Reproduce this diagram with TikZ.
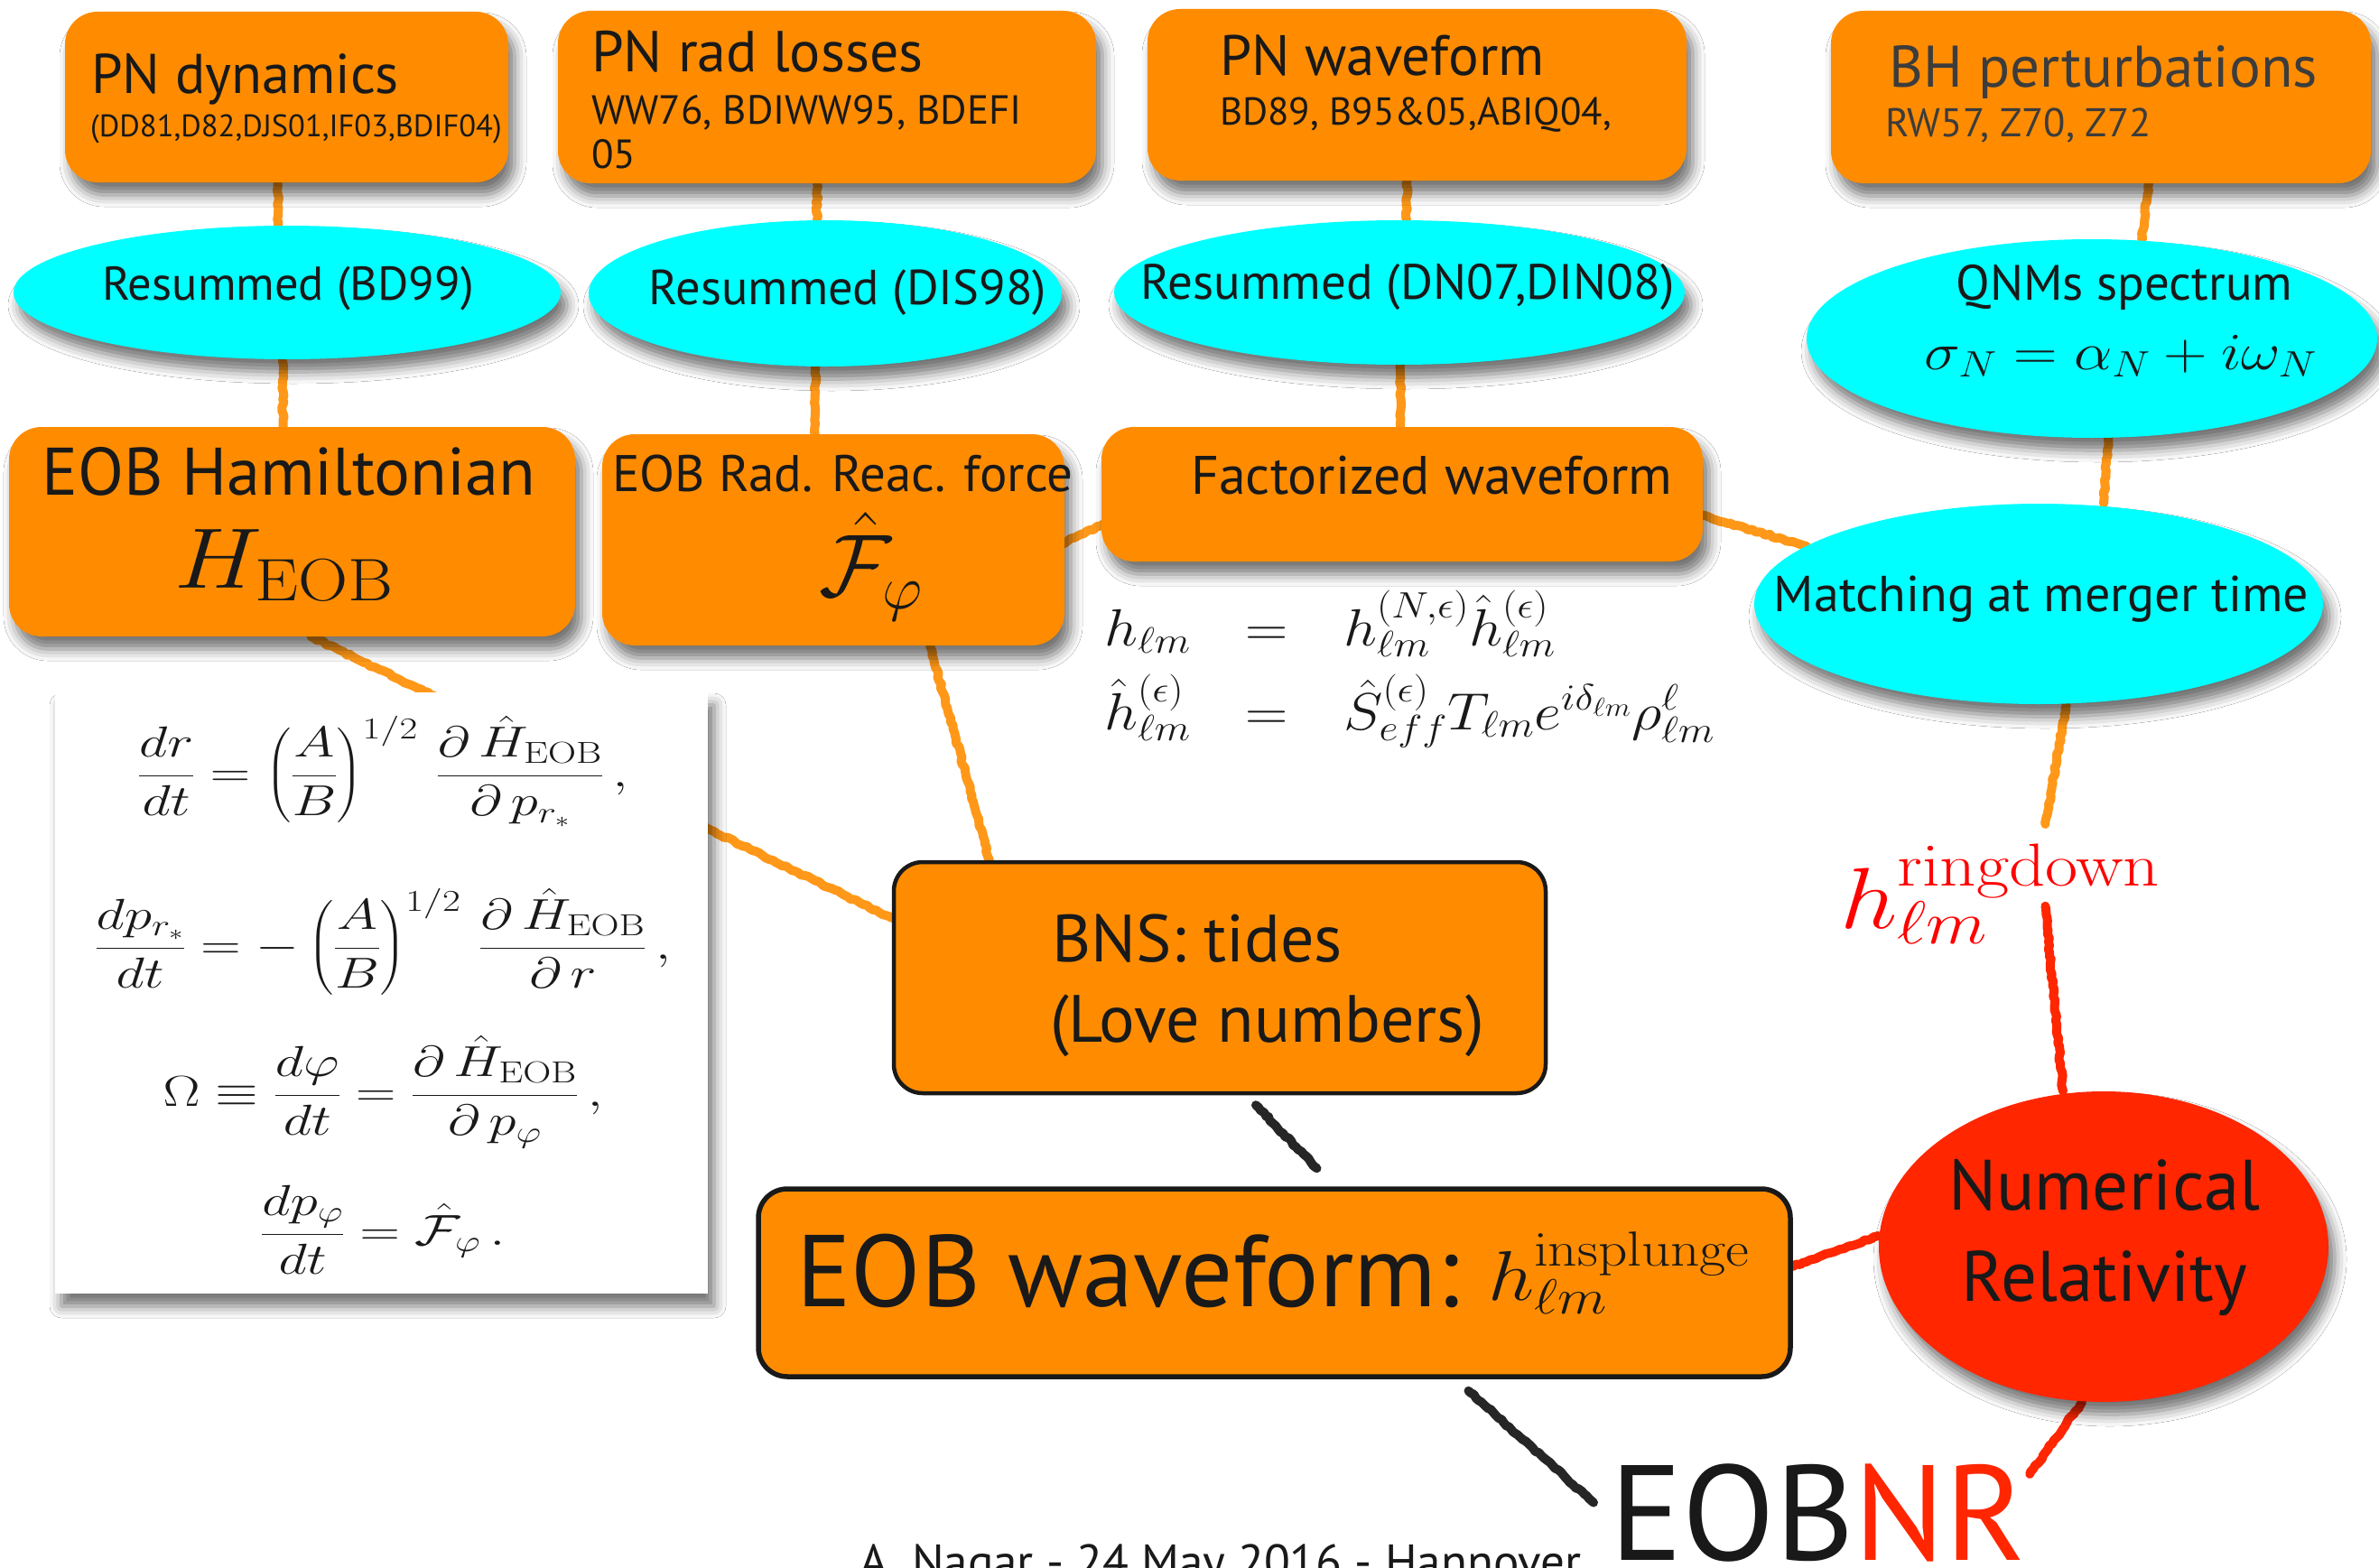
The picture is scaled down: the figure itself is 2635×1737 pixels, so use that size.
\IfFileExists{fix-cm.sty}{\RequirePackage{fix-cm}}{}
\documentclass[tikz,border=0pt]{standalone}
\usepackage{amsmath}
\usepackage{graphicx}
\usepackage[no-math]{fontspec}
\newfontfamily\chalk{PT Sans}
\usetikzlibrary{shapes.geometric,shadows.blur,decorations.pathmorphing}
\pgfdeclarelayer{bg}
\pgfsetlayers{bg,main}
\definecolor{boxorange}{RGB}{255,140,0}
\definecolor{linkorange}{RGB}{255,152,24}
\definecolor{bubcyan}{RGB}{0,255,255}
\definecolor{nrred}{RGB}{255,38,0}
\definecolor{rdred}{RGB}{255,0,0}
\definecolor{ink}{RGB}{25,25,25}
\definecolor{inkgray}{RGB}{60,60,60}
\newcommand{\fsz}[1]{\fontsize{#1pt}{#1pt}\selectfont}
\newcommand{\xs}[2]{\scalebox{#1}[1]{#2}}
\begin{document}
\begin{tikzpicture}[x=1pt,y=-1pt,
  shd/.style={blur shadow={shadow xshift=7pt, shadow yshift=-14pt, shadow blur radius=13pt, shadow opacity=55}},
  obox/.style={rectangle, rounded corners=36pt, fill=boxorange, inner sep=0pt, shd},
  cbub/.style={ellipse, fill=bubcyan, inner sep=0pt, shd},
  rough/.style={rectangle, rounded corners=32pt, fill=boxorange, draw=black!90, line width=4.5pt, inner sep=0pt},
  lbl/.style={inner sep=0pt, text=ink},
  con/.style={draw=linkorange, line width=10pt, line cap=round, line join=round, decorate,
     decoration={random steps, segment length=4pt, amplitude=1.2pt}},
  rcon/.style={con, draw=nrred},
  kcon/.style={con, draw=black!85, line width=10pt}]
\pgfmathsetseed{7}
\fill[white] (0,0) rectangle (2,2);
\useasboundingbox (0,0) rectangle (2635,1737);

% ---------- top row ----------
\node[obox, minimum width=491pt, minimum height=189pt] (pnd) at (317.5,107.5) {};
\node[lbl, anchor=base west, font=\chalk\fsz{62}] (pndt) at (101,103) {PN dynamics};
\node[lbl, anchor=base west, font=\chalk\fsz{34.5}] (pndr) at (100,151) {(DD81,D82,DJS01,IF03,BDIF04)};

\node[obox, minimum width=596pt, minimum height=191pt] (pnr) at (916,107.5) {};
\node[lbl, anchor=base west, font=\chalk\fsz{64}] (pnrt) at (655,79) {PN rad losses};
\node[lbl, anchor=base west, font=\chalk\fsz{45}] (pnrr) at (655,137) {WW76, BDIWW95, BDEFI};
\node[lbl, anchor=base west, font=\chalk\fsz{45}] (pnrr2) at (655,186) {05};

\node[obox, minimum width=597pt, minimum height=190pt] (pnw) at (1569.5,105) {};
\node[lbl, anchor=base west, font=\chalk\fsz{63}] (pnwt) at (1351,84) {PN waveform};
\node[lbl, anchor=base west, font=\chalk\fsz{43}] (pnwr) at (1351,138) {BD89, B95\&05,ABIQ04,};

\node[obox, minimum width=598pt, minimum height=191pt] (bhp) at (2327,107.5) {};
\node[lbl, anchor=base west, font=\chalk\fsz{65}, text=inkgray] (bhpt) at (2092,96) {BH perturbations};
\node[lbl, anchor=base west, font=\chalk\fsz{44.5}, text=inkgray] (bhpr) at (2088,151) {RW57, Z70, Z72};

% ---------- second row ----------
\node[cbub, minimum width=606pt, minimum height=148pt] (bd) at (318,324) {};
\node[lbl, anchor=base, font=\chalk\fsz{52.5}] (bdt) at (319,332.5) {Resummed (BD99)};

\node[cbub, minimum width=524pt, minimum height=162pt] (dis) at (914,325) {};
\node[lbl, anchor=base, font=\chalk\fsz{54.5}] (dist) at (939,337) {Resummed (DIS98)};

\node[cbub, minimum width=632pt, minimum height=160pt] (dn) at (1550,324) {};
\node[lbl, anchor=base, font=\chalk\fsz{55}] (dnt) at (1559,331) {Resummed (DN07,DIN08)};

\node[cbub, minimum width=632pt, minimum height=220pt] (qnm) at (2317,375) {};
\node[lbl, anchor=base, font=\chalk\fsz{55}] (qnmt) at (2353,332) {QNMs spectrum};
\node[lbl, anchor=base, font=\fsz{58}] (qnmm) at (2349,409) {\xs{1.16}{$\sigma_N=\alpha_N+i\omega_N$}};

% ---------- third row ----------
\node[obox, minimum width=627pt, minimum height=232pt] (eobh) at (323.5,589) {};
\node[lbl, anchor=base, font=\chalk\fsz{74.5}] (eobht) at (320,548) {EOB Hamiltonian};
\node[lbl, anchor=base, font=\fsz{95}] (eobhm) at (315,651) {\xs{1.15}{$H_{\mathrm{EOB}}$}};

\node[obox, minimum width=512pt, minimum height=234pt] (rad) at (923,598) {};
\node[lbl, anchor=base west, font=\chalk\fsz{57}] (radt) at (678,544) {EOB Rad. Reac. force};
\node[lbl, anchor=base, font=\fsz{98}] (radm) at (965,660) {$\hat{\mathcal{F}}_{\varphi}$};

\node[obox, minimum width=666pt, minimum height=149pt] (fact) at (1553,547.5) {};
\node[lbl, anchor=base west, font=\chalk\fsz{60}] (factt) at (1319,547) {Factorized waveform};

\node[cbub, minimum width=630pt, minimum height=222pt] (match) at (2258,669) {};
\node[lbl, anchor=base, font=\chalk\fsz{56}] (matcht) at (2261,677) {Matching at merger time};

% ---------- factorized waveform formulas ----------
\node[lbl, anchor=base east, font=\fsz{58}] (f1l) at (1319,715) {\xs{1.13}{$h_{\ell m}$}};
\node[lbl, anchor=base, font=\fsz{58}] (f1e) at (1403,715) {\xs{1.13}{$=$}};
\node[lbl, anchor=base west, font=\fsz{58}] (f1r) at (1488,715) {\xs{1.13}{$h^{(N,\epsilon)}_{\ell m}\hat{h}^{(\epsilon)}_{\ell m}$}};
\node[lbl, anchor=base east, font=\fsz{58}] (f2l) at (1319,808) {\xs{1.13}{$\hat{h}^{(\epsilon)}_{\ell m}$}};
\node[lbl, anchor=base, font=\fsz{58}] (f2e) at (1403,808) {\xs{1.13}{$=$}};
\node[lbl, anchor=base west, font=\fsz{58}] (f2r) at (1488,808) {\xs{1.13}{$\hat{S}^{(\epsilon)}_{eff}T_{\ell m}e^{i\delta_{\ell m}}\rho^{\ell}_{\ell m}$}};

% ---------- equations of motion box ----------
\node[rectangle, fill=white, minimum width=723pt, minimum height=666pt, inner sep=0pt, shd] (eqbox) at (422.5,1100) {};
\node[lbl, anchor=base, font=\fsz{48}] (eq1) at (424,871) {\xs{1.28}{$\displaystyle \frac{dr}{dt}=\left(\frac{A}{B}\right)^{1/2}\,\frac{\partial\,\hat{H}_{\mathrm{EOB}}}{\partial\,p_{r_*}}\,,$}};
\node[lbl, anchor=base, font=\fsz{48}] (eq2) at (424,1062) {\xs{1.28}{$\displaystyle \frac{dp_{r_*}}{dt}=-\left(\frac{A}{B}\right)^{1/2}\,\frac{\partial\,\hat{H}_{\mathrm{EOB}}}{\partial\,r}\,,$}};
\node[lbl, anchor=base, font=\fsz{48}] (eq3) at (424,1225) {\xs{1.28}{$\displaystyle \Omega\equiv\frac{d\varphi}{dt}=\frac{\partial\,\hat{H}_{\mathrm{EOB}}}{\partial\,p_{\varphi}}\,,$}};
\node[lbl, anchor=base, font=\fsz{48}] (eq4) at (424,1379) {\xs{1.28}{$\displaystyle \frac{dp_{\varphi}}{dt}=\hat{\mathcal{F}}_{\varphi}\,.$}};

% ---------- lower part ----------
\node[rough, minimum width=722pt, minimum height=256pt] (bns) at (1351,1083) {};
\node[lbl, anchor=base west, font=\chalk\fsz{74}] (bnst) at (1165,1065) {BNS: tides};
\node[lbl, anchor=base west, font=\chalk\fsz{74}] (bnst2) at (1163,1154) {(Love numbers)};

\node[rough, minimum width=1143pt, minimum height=208pt, line width=5.5pt] (eobw) at (1411.5,1421) {};
\node[lbl, anchor=base west, font=\chalk\fsz{113}] (eobwt) at (882,1447) {EOB waveform:};
\node[lbl, anchor=base west, font=\fsz{78}] (eobwm) at (1648,1440) {\xs{1.16}{$h^{\mathrm{insplunge}}_{\ell m}$}};

\node[ellipse, fill=nrred, inner sep=0pt, minimum width=498pt, minimum height=344pt, shd] (nr) at (2330,1381) {};
\node[lbl, anchor=base, font=\chalk\fsz{79}] (nrt1) at (2331,1340) {Numerical};
\node[lbl, anchor=base, font=\chalk\fsz{79}] (nrt2) at (2331,1441) {Relativity};

\node[lbl, anchor=base west, font=\fsz{96}, text=rdred] (rd) at (2038,1028) {\xs{1.17}{$h^{\mathrm{ringdown}}_{\ell m}$}};

\node[lbl, anchor=base west, font=\chalk\fsz{150}] (eobnr) at (1783,1728) {EOB\textcolor{nrred}{NR}};
\node[lbl, anchor=base west, font=\chalk\fsz{53}] (foot) at (952,1748) {A. Nagar - 24 May 2016 - Hannover};

% ---------- connectors (behind everything) ----------
\begin{pgfonlayer}{bg}
\fill[white] (0,0) rectangle (2635,1737);
\draw[con] ([xshift=-10pt]pnd.south) -- ([xshift=-10pt]bd.north);
\draw[con] ([xshift=-5pt]bd.south) -- ([xshift=-10pt]eobh.north);
\draw[con] ([xshift=-11pt]pnr.south) -- ([xshift=-9pt]dis.north);
\draw[con] ([xshift=-11pt]dis.south) -- ([xshift=-20pt]rad.north);
\draw[con] ([xshift=-11pt]pnw.south) -- ([xshift=8pt]dn.north);
\draw[con] ([xshift=1pt]dn.south) -- ([xshift=-2pt]fact.north);
\draw[con] ([xshift=53pt]bhp.south) -- ([xshift=55pt]qnm.north);
\draw[con] ([xshift=18pt]qnm.south) -- ([xshift=72pt]match.north);
\draw[con] ([xshift=-4pt,yshift=-5pt]rad.east) -- ([xshift=4pt,yshift=-32pt]fact.west);
\draw[con] ([xshift=-4pt,yshift=-23pt]fact.east) -- (match.166);
\draw[con] ([xshift=21pt]eobh.south) -- ([yshift=66pt]bns.west);
\draw[con] ([xshift=107pt]rad.south) -- ([xshift=-255pt]bns.north);
\draw[con] ([xshift=31pt]match.south) -- ([xshift=50pt,yshift=22pt]rd.north);
\draw[rcon] ([xshift=50pt,yshift=42pt]rd.south) -- ([xshift=-45pt]nr.north);
\draw[rcon] ([yshift=18pt]eobw.east) -- ([yshift=12pt]nr.west);
\draw[rcon] ([xshift=-24pt]nr.south) -- ([xshift=4pt,yshift=-12pt]eobnr.north east);
\draw[kcon] ([xshift=40pt,yshift=-11pt]bns.south) -- ([xshift=47pt,yshift=20pt]eobw.north);
\draw[kcon] ([xshift=215pt,yshift=-13pt]eobw.south) -- ([xshift=-18pt,yshift=11pt]eobnr.west);
\end{pgfonlayer}
\end{tikzpicture}
\end{document}
